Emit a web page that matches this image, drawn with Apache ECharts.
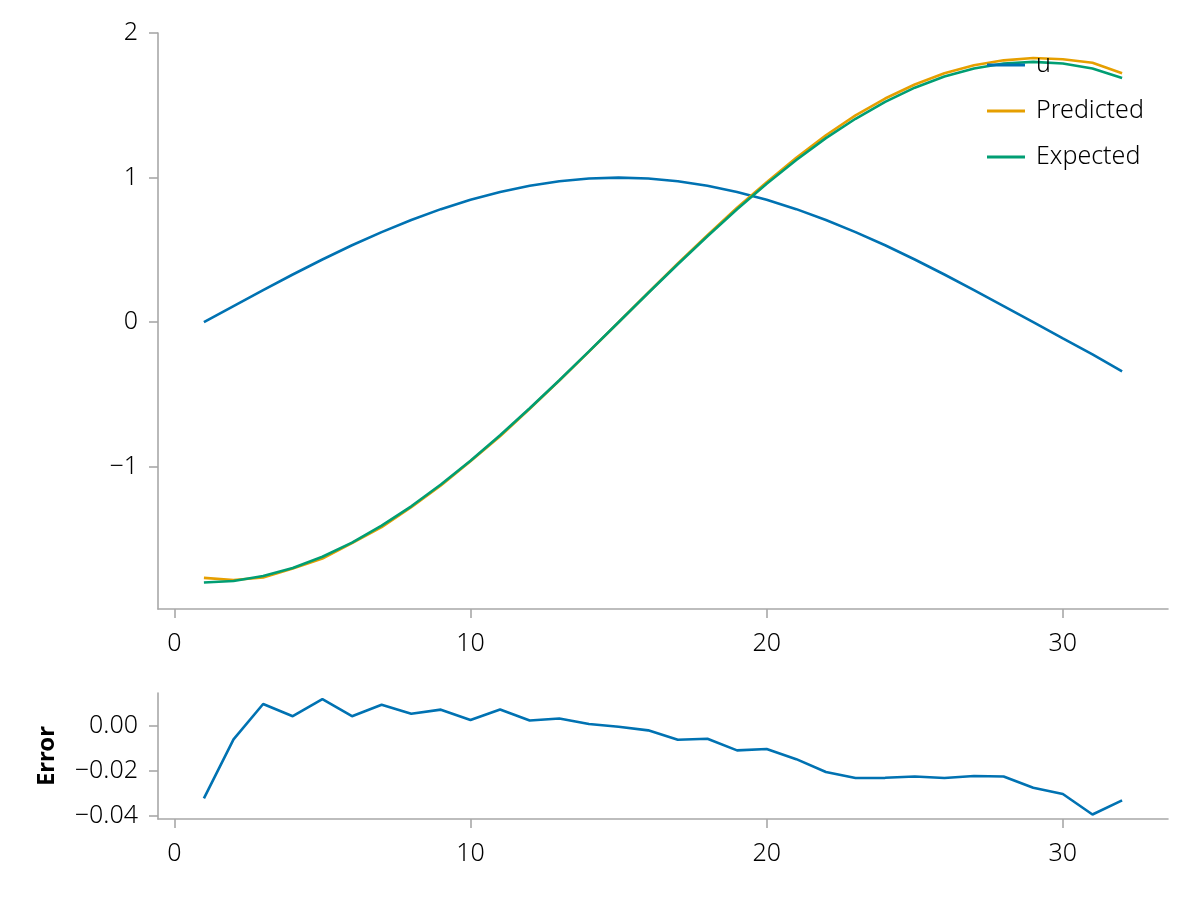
<!DOCTYPE html>
<html>
<head>
<meta charset="utf-8">
<title>u / Predicted / Expected</title>
<script src="https://cdn.jsdelivr.net/npm/echarts@6/dist/echarts.min.js"></script>
<style>
	html, body { margin: 0; padding: 0; background: #fff; }
	#main { width: 1200px; height: 900px; }
</style>
</head>
<body>
<div id="main"></div>
<script>
var steps = [1, 2, 3, 4, 5, 6, 7, 8, 9, 10, 11, 12, 13, 14, 15, 16,
	17, 18, 19, 20, 21, 22, 23, 24, 25, 26, 27, 28, 29, 30, 31, 32];

var uValues = [0.000, 0.112, 0.222, 0.330, 0.434, 0.532, 0.623, 0.707, 0.782, 0.847, 0.901, 0.944, 0.975, 0.994, 1.000, 0.994,
	0.975, 0.944, 0.901, 0.847, 0.782, 0.707, 0.623, 0.532, 0.434, 0.330, 0.222, 0.112, 0.000, -0.112, -0.222, -0.340];

var predictedValues = [-1.768, -1.783, -1.765, -1.703, -1.634, -1.528, -1.417, -1.279, -1.129, -0.961, -0.788, -0.598, -0.404, -0.203, 0.000, 0.204,
	0.407, 0.601, 0.792, 0.968, 1.137, 1.293, 1.430, 1.547, 1.644, 1.722, 1.777, 1.811, 1.827, 1.819, 1.794, 1.722];

var expectedValues = [-1.800, -1.789, -1.755, -1.699, -1.622, -1.524, -1.407, -1.273, -1.122, -0.958, -0.781, -0.595, -0.401, -0.202, 0.000, 0.202,
	0.401, 0.595, 0.781, 0.958, 1.122, 1.273, 1.407, 1.524, 1.622, 1.699, 1.755, 1.789, 1.800, 1.789, 1.755, 1.689];

var errorValues = [-0.0321, -0.0059, 0.0098, 0.0044, 0.0120, 0.0044, 0.0095, 0.0055, 0.0073, 0.0027, 0.0074, 0.0025, 0.0034, 0.0009, -0.0003, -0.0019,
	-0.0061, -0.0056, -0.0108, -0.0102, -0.0147, -0.0204, -0.0231, -0.0230, -0.0224, -0.0231, -0.0222, -0.0224, -0.0274, -0.0302, -0.0393, -0.0330];

var xTicks = [0, 10, 20, 30];
var yTicksTop = [-1, 0, 1, 2];
var yTicksError = [-0.04, -0.02, 0];

var seriesNames = ['u', 'Predicted', 'Expected'];
var colors = ['#0072B2', '#E69F00', '#009E73'];

var FONT = '"Noto Sans", "Open Sans", sans-serif';
var AXIS_GREY = '#a8a8a8';
var TEXT = '#000';

function pairs(xs, ys) {
	var out = [];
	for (var i = 0; i < xs.length; i++) {
		out.push([xs[i], ys[i]]);
	}
	return out;
}

function minusSign(s) {
	return String(s).replace('-', '\u2212');
}

// common axis look, makie-like spines with outward ticks
function baseAxis(ticks, fmt) {
	return {
		type: 'value',
		splitLine: { show: false },
		axisLine: { show: true, onZero: false, lineStyle: { color: AXIS_GREY, width: 1.6 } },
		axisTick: { show: true, length: 9, customValues: ticks, lineStyle: { color: AXIS_GREY, width: 1.6 } },
		axisLabel: {
			show: true,
			customValues: ticks,
			margin: 20,
			color: TEXT,
			fontFamily: FONT,
			fontWeight: 300,
			fontSize: 25,
			formatter: fmt
		}
	};
}

var xTop = baseAxis(xTicks, function (v) { return minusSign(v); });
xTop.gridIndex = 0; xTop.min = -0.55; xTop.max = 33.55;
xTop.axisLabel.margin = 22;

var xBottom = baseAxis(xTicks, function (v) { return minusSign(v); });
xBottom.gridIndex = 1; xBottom.min = -0.55; xBottom.max = 33.55;
xBottom.axisLabel.margin = 22;

var yTop = baseAxis(yTicksTop, function (v) { return minusSign(v); });
yTop.gridIndex = 0; yTop.min = -1.983; yTop.max = 2.0;

var yBottom = baseAxis(yTicksError, function (v) { return minusSign(Number(v).toFixed(2)); });
yBottom.gridIndex = 1; yBottom.min = -0.0413; yBottom.max = 0.0147;
yBottom.name = 'Error';
yBottom.nameLocation = 'middle';
yBottom.nameRotate = 90;
yBottom.nameGap = 99;
yBottom.nameTextStyle = { fontFamily: FONT, fontSize: 24, fontWeight: 'bold', color: TEXT };

var option = {
	animation: false,
	color: colors,
	textStyle: { fontFamily: FONT },
	grid: [
		{ left: 158, top: 33, width: 1010, height: 576 },
		{ left: 158, top: 693, width: 1010, height: 126 }
	],
	xAxis: [xTop, xBottom],
	yAxis: [yTop, yBottom],
	legend: {
		data: seriesNames,
		orient: 'vertical',
		left: 982,
		top: 46,
		icon: 'rect',
		itemWidth: 38,
		itemHeight: 3,
		itemGap: 18,
		textStyle: { fontFamily: FONT, fontWeight: 300, fontSize: 25, color: TEXT, lineHeight: 28, padding: [0, 0, 0, 6] }
	},
	series: [
		{
			name: seriesNames[0], type: 'line', xAxisIndex: 0, yAxisIndex: 0,
			data: pairs(steps, uValues), showSymbol: false, lineStyle: { width: 2.6 }
		},
		{
			name: seriesNames[1], type: 'line', xAxisIndex: 0, yAxisIndex: 0,
			data: pairs(steps, predictedValues), showSymbol: false, lineStyle: { width: 2.6 }
		},
		{
			name: seriesNames[2], type: 'line', xAxisIndex: 0, yAxisIndex: 0,
			data: pairs(steps, expectedValues), showSymbol: false, lineStyle: { width: 2.6 }
		},
		{
			name: 'Error', type: 'line', xAxisIndex: 1, yAxisIndex: 1,
			data: pairs(steps, errorValues), showSymbol: false,
			lineStyle: { width: 2.6, color: colors[0] }, itemStyle: { color: colors[0] }
		}
	]
};

var chart = echarts.init(document.getElementById('main'));
chart.setOption(option);
window.onresize = chart.resize;
</script>
</body>
</html>
